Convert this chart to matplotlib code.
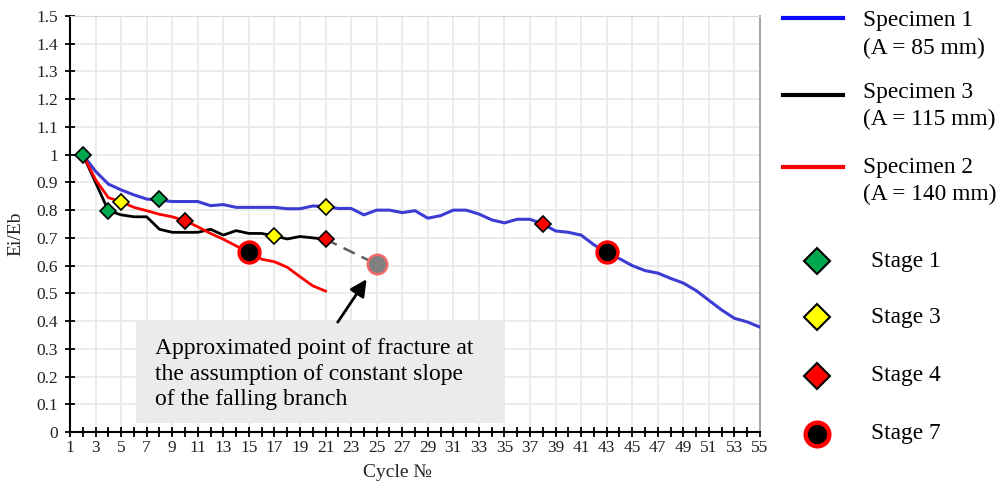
import matplotlib
matplotlib.use("Agg")
import matplotlib.pyplot as plt
from matplotlib.lines import Line2D
from matplotlib.patches import Rectangle

plt.rcParams["font.family"] = ["Liberation Serif", "DejaVu Serif"]

# Specimen 1 (A = 85 mm), cycles 2..55
cycles_s1 = list(range(2, 56))
ratio_s1 = [1.0, 0.94, 0.894, 0.873, 0.855, 0.84, 0.836, 0.831, 0.831, 0.831,
            0.816, 0.82, 0.81, 0.81, 0.81, 0.81, 0.805, 0.805, 0.815, 0.813,
            0.806, 0.806, 0.783, 0.80, 0.80, 0.791, 0.798, 0.771, 0.78, 0.80,
            0.80, 0.786, 0.765, 0.754, 0.767, 0.767, 0.75, 0.725, 0.72, 0.71,
            0.675, 0.648, 0.625, 0.60, 0.582, 0.573, 0.554, 0.537, 0.51, 0.475,
            0.44, 0.41, 0.397, 0.378]

# Specimen 3 (A = 115 mm), cycles 2..21
cycles_s3 = list(range(2, 22))
ratio_s3 = [1.0, 0.90, 0.798, 0.783, 0.776, 0.776, 0.731, 0.72, 0.72, 0.72,
            0.731, 0.71, 0.726, 0.716, 0.716, 0.707, 0.696, 0.705, 0.70, 0.695]

# Specimen 2 (A = 140 mm), cycles 2..21
cycles_s2 = list(range(2, 22))
ratio_s2 = [1.0, 0.91, 0.845, 0.83, 0.81, 0.798, 0.785, 0.776, 0.762, 0.74,
            0.716, 0.695, 0.671, 0.649, 0.623, 0.614, 0.594, 0.56, 0.527, 0.508]

# stage points (cycle, Ei/Eb)
stage1_x = [2, 4, 8]
stage1_y = [1.0, 0.798, 0.84]
stage3_x = [5, 17, 21]
stage3_y = [0.83, 0.707, 0.813]
stage4_x = [10, 21, 38]
stage4_y = [0.762, 0.695, 0.75]
stage7_x = [15, 43]
stage7_y = [0.649, 0.648]

# extrapolated fracture of specimen 3
extrap_x = [21, 25]
extrap_y = [0.695, 0.605]

legend_lines = ["Specimen 1\n(A = 85 mm)", "Specimen 3\n(A = 115 mm)", "Specimen 2\n(A = 140 mm)"]
legend_stages = ["Stage 1", "Stage 3", "Stage 4", "Stage 7"]
note = "Approximated point of fracture at\nthe assumption of constant slope\nof the falling branch"

fig = plt.figure(figsize=(10.08, 4.88), dpi=100)
ax = fig.add_axes([70 / 1008, 56 / 488, 690 / 1008, 416 / 488])

ax.plot(cycles_s1, ratio_s1, color="#3c3cd4", lw=2.2, zorder=3)
ax.plot(cycles_s3, ratio_s3, color="black", lw=2.0, zorder=3)
ax.plot(cycles_s2, ratio_s2, color="#ff0000", lw=2.0, zorder=3)
ax.plot(extrap_x, extrap_y, color="#5e5e5e", lw=1.8, ls=(0, (5, 3)), zorder=3)
ax.plot(extrap_x[-1:], extrap_y[-1:], "o", ms=14, mfc="#808080", mec="#f06a6a",
        mew=1.8, zorder=5)

dkw = dict(ls="none", marker="D", ms=8, mec="black", mew=1.2, zorder=5)
ax.plot(stage1_x, stage1_y, mfc="#00a84f", **dkw)
ax.plot(stage3_x, stage3_y, mfc="#ffff00", **dkw)
ax.plot(stage4_x, stage4_y, mfc="#ff0000", **dkw)
ax.plot(stage7_x, stage7_y, "o", ms=15, mfc="black", mec="#ff0000", mew=2.5, zorder=5)

ax.set_xlim(1, 55)
ax.set_ylim(0, 1.5)
ax.set_xticks(range(1, 56, 2))
ax.set_xticks(range(1, 56), minor=True)
yt = [i / 10 for i in range(16)]
ax.set_yticks(yt, labels=[f"{v:g}" for v in yt])
ax.tick_params(axis="both", which="both", direction="inout", length=7, width=1.3,
               labelsize=12.5, color="black", labelcolor="#222222")
ax.tick_params(axis="x", pad=2)
ax.tick_params(axis="y", pad=5)
ax.grid(True, color="#e9e9e9", lw=1.3, zorder=0)
ax.set_axisbelow(True)
for s in ("left", "bottom"):
    ax.spines[s].set_linewidth(1.5)
ax.spines["right"].set_color("#a3abab")
ax.spines["right"].set_linewidth(1.5)
ax.spines["top"].set_color("#d8d8d8")

ax.set_xlabel("Cycle \u2116", fontsize=14, color="#222222")
ax.xaxis.set_label_coords(0.474, -0.078)
ax.set_ylabel("Ei/Eb", fontsize=14, color="#222222")
ax.yaxis.set_label_coords(-0.066, 0.477)

# note box with arrow
ax.add_patch(Rectangle((0.0957, 0.021), 0.534, 0.248, transform=ax.transAxes,
                       facecolor="#ebebeb", edgecolor="none", zorder=2))
ax.text(0.123, 0.139, note, transform=ax.transAxes, fontsize=17, va="center",
        ha="left", linespacing=1.3, zorder=4)
ax.annotate("", xy=(extrap_x[-1], extrap_y[-1]), xytext=(0.388, 0.264),
            textcoords="axes fraction",
            arrowprops=dict(arrowstyle="-|>,head_length=1.0,head_width=0.5",
                            color="black", lw=2, shrinkA=0, shrinkB=13))

# legend drawn at figure level
W, H = 1008, 488
line_colors = ["#0a0aff", "black", "#ff0000"]
line_y = [18, 95, 167]
text_y = [34.5, 106, 181]
for lab, c, ly, ty in zip(legend_lines, line_colors, line_y, text_y):
    fig.add_artist(Line2D([783 / W, 843 / W], [1 - ly / H, 1 - ly / H], color=c, lw=3))
    fig.text(863 / W, 1 - ty / H, lab, fontsize=16.8, va="center", ha="left",
             linespacing=1.4)

stage_y = [261, 317, 376, 434]
stage_style = [dict(marker="D", ms=13, mfc="#00a84f", mec="black", mew=1.5),
               dict(marker="D", ms=13, mfc="#ffff00", mec="black", mew=1.5),
               dict(marker="D", ms=13, mfc="#ff0000", mec="black", mew=1.5),
               dict(marker="o", ms=17, mfc="black", mec="#ff0000", mew=3.2)]
for lab, sy, st in zip(legend_stages, stage_y, stage_style):
    fig.add_artist(Line2D([817 / W], [1 - sy / H], ls="none", **st))
    fig.text(871 / W, 1 - sy / H, lab, fontsize=16.8, va="center", ha="left")

fig.savefig("out.png", dpi=100)
